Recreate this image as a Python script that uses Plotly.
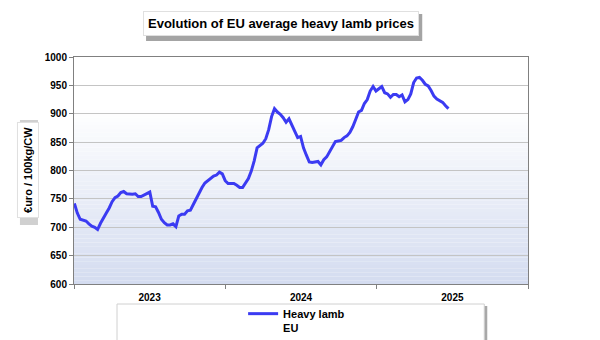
import pandas as pd
import plotly.graph_objects as go

# ---- data (weekly EU average heavy lamb price, €/100kg cw) ----
start_week = "2023-01-02"
prices = [
    742, 725, 714, 712, 711, 706, 702, 700, 696, 707,
    715, 725, 734, 745, 752, 755, 761, 763, 759, 758,
    758, 759, 754, 754, 757, 759, 762, 737, 736, 726,
    714, 708, 704, 704, 706, 701, 720, 723, 723, 729,
    730, 740, 751, 761, 770, 778, 782, 786, 790, 792,
    797, 794, 782, 777, 777, 777, 774, 770, 770, 777,
    786, 799, 817, 840, 844, 848, 856, 872, 895, 909,
    903, 899, 893, 885, 891, 880, 870, 858, 860, 840,
    827, 815, 814, 815, 816, 810, 819, 824, 833, 844,
    851, 852, 853, 858, 861, 867, 877, 890, 903, 906,
    918, 925, 940, 948, 940, 944, 948, 937, 935, 929,
    934, 934, 930, 933, 921, 925, 935, 955, 963, 964,
    959, 952, 949, 941, 931, 926, 923, 920, 914, 909,
]
dates = pd.date_range(start_week, periods=len(prices), freq="W-MON")
series_name = "Heavy lamb<br>EU"
title_text = "Evolution of EU average heavy lamb prices"
y_title = "€uro / 100kg/CW"
x_range = ["2023-01-01", "2026-01-01"]
y_range = [600, 1000]

FONT = "Arial, Liberation Sans, sans-serif"

# plot area in pixels
L, R, T, B = 74, 527.7, 57, 284
W, H = R - L, B - T


def px(x):
    return (x - L) / W


def py(y):
    return (B - y) / H


fig = go.Figure()
fig.add_trace(go.Scatter(
    x=dates, y=prices, mode="lines", name=series_name,
    line=dict(color="#3b3bf2", width=3),
))

shapes = []
# vertical gradient background of the plot area
n = 60
bot = (212, 220, 240)
for i in range(n):
    y0 = i / n
    y1 = (i + 1) / n
    t = min(1.0, ((y0 + y1) / 2) / 0.78)
    c = tuple(int(round(b + (255 - b) * t)) for b in bot)
    shapes.append(dict(type="rect", xref="x domain", yref="y domain",
                       x0=0, x1=1, y0=y0, y1=y1, layer="below",
                       line=dict(width=0), fillcolor="rgb(%d,%d,%d)" % c))

# title box shadow
shapes.append(dict(type="rect", xref="paper", yref="paper",
                   x0=px(146), x1=px(422), y0=py(41), y1=py(14),
                   line=dict(width=0), fillcolor="rgba(90,90,90,0.55)"))
# y-title box shadow
shapes.append(dict(type="rect", xref="paper", yref="paper",
                   x0=px(20), x1=px(38), y0=py(225), y1=py(120),
                   line=dict(width=0), fillcolor="rgba(120,120,120,0.35)"))
# legend box (with shadowed edges)
shapes.append(dict(type="rect", xref="paper", yref="paper",
                   x0=px(119), x1=px(487), y0=py(346), y1=py(306),
                   line=dict(width=0), fillcolor="rgba(110,110,110,0.6)"))
shapes.append(dict(type="rect", xref="paper", yref="paper",
                   x0=px(117), x1=px(484), y0=py(346), y1=py(304),
                   line=dict(color="#d0d0d0", width=1), fillcolor="white"))

annotations = [
    dict(text="<b>%s</b>" % title_text, xref="paper", yref="paper",
         x=px(281), y=py(24), xanchor="center", yanchor="middle",
         showarrow=False, font=dict(family=FONT, size=13, color="black"),
         bgcolor="white", borderpad=4, bordercolor="#e0e0e0", borderwidth=1),
    dict(text="<b>%s</b>" % y_title, xref="paper", yref="paper",
         x=px(28), y=py(170), xanchor="center", yanchor="middle",
         textangle=-90, showarrow=False,
         font=dict(family=FONT, size=11, color="black"),
         bgcolor="white", borderpad=4, bordercolor="#e0e0e0", borderwidth=1),
]

fig.update_layout(
    width=600, height=340,
    margin=dict(l=L, r=600 - R, t=T, b=340 - B, autoexpand=False),
    paper_bgcolor="white", plot_bgcolor="white",
    font=dict(family=FONT, color="black"),
    shapes=shapes, annotations=annotations,
    showlegend=True,
    legend=dict(x=px(243), y=py(300), xanchor="left", yanchor="top",
                bgcolor="rgba(0,0,0,0)", borderwidth=0, valign="top",
                font=dict(family=FONT, size=11, color="black", weight="bold"),
                itemwidth=30, tracegroupgap=0),
)

fig.update_xaxes(
    type="date", range=x_range, dtick="M12", tick0="2023-01-01",
    ticklabelmode="period", tickformat="%Y",
    ticks="outside", ticklen=4, tickcolor="#808080",
    showline=True, linecolor="#808080", linewidth=1, mirror=True,
    showgrid=False, zeroline=False,
    tickfont=dict(family=FONT, size=10, color="black", weight="bold"),
)
fig.update_yaxes(
    range=y_range, dtick=50, tick0=600,
    ticks="outside", ticklen=4, tickcolor="#808080",
    showline=True, linecolor="#808080", linewidth=1, mirror=True,
    showgrid=True, gridcolor="#c4c4c4", gridwidth=1, zeroline=False,
    tickfont=dict(family=FONT, size=10, color="black", weight="bold"),
)

fig.write_html("out.html")
